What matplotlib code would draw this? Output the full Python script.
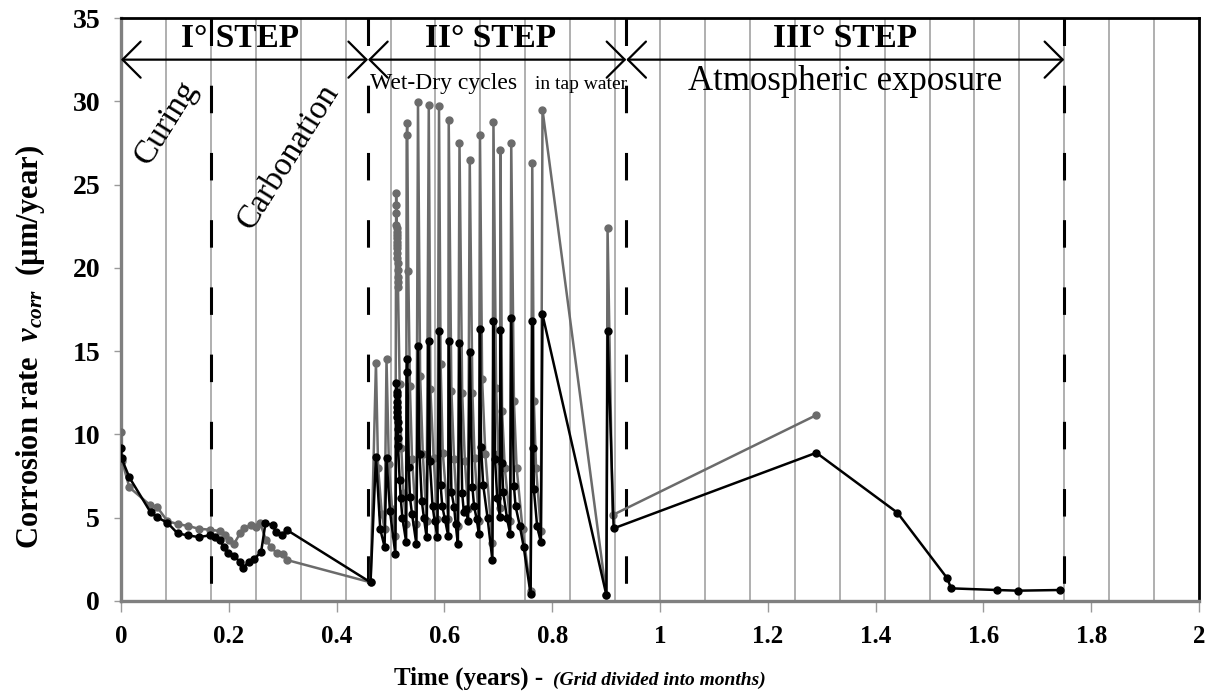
import matplotlib
matplotlib.use("Agg")
import matplotlib.pyplot as plt
import numpy as np

plt.rcParams['font.family'] = ['Liberation Serif', 'DejaVu Serif']
plt.rcParams['mathtext.fontset'] = 'custom'
plt.rcParams['mathtext.rm'] = 'Liberation Serif:bold'
plt.rcParams['mathtext.it'] = 'Liberation Serif:italic:bold'
plt.rcParams['mathtext.bf'] = 'Liberation Serif:bold'

# ---------------- data ----------------
black_x = [0.000, 0.001, 0.0155, 0.055, 0.0675, 0.086, 0.105, 0.124, 0.144, 0.165,
           0.175, 0.183, 0.191, 0.199, 0.209, 0.221, 0.226, 0.237, 0.247, 0.260,
           0.268, 0.282, 0.288, 0.299, 0.308, 0.463,
           0.473, 0.481, 0.489, 0.4926, 0.499, 0.509,
           0.5110, 0.5113, 0.5116, 0.5119, 0.5122, 0.5125, 0.5128, 0.5131, 0.5134, 0.5137, 0.5140,
           0.517, 0.519, 0.522, 0.529,
           0.530, 0.531, 0.534, 0.536, 0.540, 0.548,
           0.551, 0.554, 0.558, 0.562, 0.567,
           0.571, 0.573, 0.578, 0.582, 0.587,
           0.590, 0.593, 0.596, 0.601, 0.607,
           0.608, 0.613, 0.618, 0.621, 0.625,
           0.628, 0.633, 0.636, 0.640, 0.644,
           0.647, 0.652, 0.655, 0.660, 0.664,
           0.666, 0.668, 0.672, 0.680, 0.689,
           0.691, 0.694, 0.698, 0.703,
           0.704, 0.707, 0.709, 0.716, 0.722,
           0.724, 0.729, 0.732, 0.740, 0.747, 0.760,
           0.763, 0.765, 0.766, 0.772, 0.779,
           0.782, 0.9005, 0.9027, 0.914,
           1.290, 1.4405, 1.533, 1.540, 1.6245, 1.664, 1.742]
black_y = [9.17, 8.57, 7.42, 5.32, 5.02, 4.70, 4.06, 3.94, 3.84, 3.94,
           3.82, 3.66, 3.24, 2.86, 2.70, 2.36, 1.96, 2.36, 2.50, 2.96,
           4.66, 4.56, 4.12, 3.96, 4.26, 1.12,
           8.66, 4.30, 3.26, 8.56, 5.40, 2.82,
           13.10, 12.56, 12.36, 11.96, 11.66, 11.36, 11.03, 10.76, 10.30, 9.80, 9.30,
           7.26, 6.16, 5.00, 3.56,
           13.76, 14.50, 8.06, 6.26, 5.20, 3.42,
           15.30, 8.80, 6.00, 5.00, 3.82,
           15.60, 8.42, 5.70, 4.80, 3.86,
           16.20, 6.96, 5.70, 4.90, 3.92,
           15.60, 6.56, 5.66, 4.60, 3.40,
           15.50, 6.46, 5.36, 5.50, 4.82,
           14.96, 6.82, 5.70, 4.90, 4.00,
           16.30, 9.26, 6.96, 5.00, 2.46,
           16.80, 8.50, 6.16, 5.02,
           16.27, 8.26, 6.56, 5.00, 4.02,
           17.00, 6.90, 5.70, 4.50, 3.26, 0.40,
           16.80, 9.16, 6.70, 4.50, 3.52,
           17.20, 0.36, 16.20, 4.36,
           8.90, 5.30, 1.36, 0.76, 0.66, 0.62, 0.66]

gray_x = [0.000, 0.002, 0.0155, 0.054, 0.0675, 0.086, 0.105, 0.125, 0.144, 0.165,
          0.183, 0.193, 0.201, 0.209, 0.221, 0.229, 0.241, 0.250, 0.258, 0.269,
          0.278, 0.289, 0.300, 0.308, 0.463,
          0.473, 0.477, 0.484, 0.489,
          0.4926, 0.497, 0.503, 0.509,
          0.5105, 0.5107, 0.5109, 0.5111, 0.5113, 0.5115, 0.5117, 0.5119, 0.5121,
          0.5123, 0.5125, 0.5127, 0.5129, 0.5131, 0.5133, 0.5135, 0.5137, 0.5139,
          0.517, 0.520, 0.524, 0.529,
          0.530, 0.531, 0.533, 0.536, 0.540, 0.548,
          0.551, 0.555, 0.560, 0.567,
          0.571, 0.574, 0.580, 0.587,
          0.590, 0.593, 0.597, 0.607,
          0.608, 0.613, 0.618, 0.625,
          0.628, 0.633, 0.638, 0.644,
          0.647, 0.652, 0.656, 0.664,
          0.666, 0.670, 0.676, 0.689,
          0.691, 0.696, 0.700, 0.703,
          0.704, 0.707, 0.712, 0.722,
          0.724, 0.729, 0.734, 0.745, 0.760,
          0.763, 0.766, 0.770, 0.779,
          0.782, 0.9005, 0.9027, 0.912, 1.290]
gray_y = [10.16, 8.40, 6.82, 5.76, 5.62, 4.80, 4.62, 4.50, 4.34, 4.28,
          4.20, 3.96, 3.66, 3.40, 4.06, 4.36, 4.56, 4.46, 4.70, 3.66,
          3.26, 2.86, 2.82, 2.46, 1.12,
          14.30, 8.00, 5.20, 4.30,
          14.50, 8.20, 5.50, 3.90,
          24.50, 23.77, 23.30, 22.57, 22.37, 22.17, 21.97, 21.77, 21.57,
          21.37, 21.17, 20.87, 20.57, 20.27, 19.87, 19.47, 19.17, 18.87,
          13.00, 9.20, 6.50, 4.60,
          27.97, 28.70, 19.80, 12.90, 8.50, 4.60,
          29.97, 13.50, 8.80, 4.80,
          29.80, 12.70, 8.60, 4.90,
          29.70, 14.20, 8.90, 4.90,
          28.90, 12.60, 8.50, 4.50,
          27.50, 12.50, 8.40, 5.50,
          26.50, 12.50, 8.60, 4.80,
          28.00, 13.30, 8.80, 3.50,
          28.75, 12.80, 8.80, 5.60,
          27.07, 11.40, 8.00, 4.80,
          27.50, 12.00, 8.00, 4.30, 0.60,
          26.27, 12.00, 8.00, 4.20,
          29.50, 0.36, 22.40, 5.16, 11.16]

x_ticks = [0, 0.2, 0.4, 0.6, 0.8, 1, 1.2, 1.4, 1.6, 1.8, 2]
x_tick_labels = ['0', '0.2', '0.4', '0.6', '0.8', '1', '1.2', '1.4', '1.6', '1.8', '2']
y_ticks = [0, 5, 10, 15, 20, 25, 30, 35]
month_lines = [k / 12 for k in range(1, 24)]
step_bounds = [0.0, 5.5 / 12, 11.25 / 12, 1.75]
phase_lines = [2 / 12, 5.5 / 12, 11.25 / 12, 1.75]
step_names = ['I° STEP', 'II° STEP', 'III° STEP']

# ---------------- figure ----------------
fig = plt.figure(figsize=(12.17, 6.95), dpi=100)
ax = fig.add_axes([121 / 1217, 1 - 601 / 695, (1199 - 121) / 1217, (601 - 18) / 695])
ax.set_xlim(0, 2)
ax.set_ylim(0, 35)

for m in month_lines:
    ax.axvline(m, color='#9a9a9a', lw=1.1, zorder=1)

for xl in phase_lines:
    ax.plot([xl, xl], [35, 0], color='black', lw=2.2,
            linestyle=(0, (9, 13)), zorder=2)

ax.plot(gray_x, gray_y, color='#6b6b6b', lw=1.8, marker='o', ms=5,
        markerfacecolor='#6b6b6b', markeredgecolor='#6b6b6b', zorder=3)
ax.plot(black_x, black_y, color='black', lw=1.8, marker='o', ms=5,
        markerfacecolor='black', markeredgecolor='black', zorder=4)

# step arrows
arrow_y = 32.5
for i in range(3):
    ax.annotate('', xy=(step_bounds[i + 1], arrow_y), xytext=(step_bounds[i], arrow_y),
                arrowprops=dict(arrowstyle='<->,head_length=1.0,head_width=1.0',
                                lw=1.6, color='black', shrinkA=0, shrinkB=0,
                                mutation_scale=13), zorder=5)

step_cx = [0.221, 0.685, 1.343]
for name, cx in zip(step_names, step_cx):
    ax.text(cx, 33.75, name, ha='center', va='center', fontsize=24,
            fontweight='bold', zorder=6)

ax.text(0.462, 31.05, 'Wet-Dry cycles', ha='left', va='center', fontsize=17, zorder=6)
ax.text(0.768, 31.0, 'in tap water', ha='left', va='center', fontsize=14, zorder=6)
ax.text(1.343, 31.2, 'Atmospheric exposure', ha='center', va='center', fontsize=25, zorder=6)
ax.text(0.0835, 28.7, 'Curing', ha='center', va='center', fontsize=24,
        rotation=58, zorder=6)
ax.text(0.31, 26.7, 'Carbonation', ha='center', va='center', fontsize=24,
        rotation=58, zorder=6)

# axes styling
ax.set_xticks(x_ticks)
ax.set_xticklabels(x_tick_labels)
ax.set_yticks(y_ticks)
for lab in ax.get_xticklabels():
    lab.set_fontweight('bold')
    lab.set_fontsize(18)
for lab in ax.get_yticklabels():
    lab.set_fontweight('bold')
    lab.set_fontsize(20)
ax.tick_params(axis='x', direction='out', length=8, width=1, color='#9a9a9a', pad=9)
ax.tick_params(axis='y', direction='out', length=5, width=1, color='#9a9a9a', pad=10)
ax.spines['left'].set_color('#808080')
ax.spines['left'].set_linewidth(2.4)
ax.spines['bottom'].set_color('#808080')
ax.spines['bottom'].set_linewidth(2.4)
ax.spines['top'].set_color('black')
ax.spines['top'].set_linewidth(2.0)
ax.spines['right'].set_color('black')
ax.spines['right'].set_linewidth(2.0)

fig.text(30 / 1217, 1 - 347 / 695, r'Corrosion rate  $v_{corr}$  (µm/year)',
         rotation=90, ha='center', va='center', fontsize=22, fontweight='bold')
fig.text(549 / 1217, 1 - 678 / 695, 'Time (years) - ', ha='right', va='center',
         fontsize=18, fontweight='bold')
fig.text(553 / 1217, 1 - 680 / 695, '(Grid divided into months)', ha='left', va='center',
         fontsize=14, fontweight='bold', fontstyle='italic')

fig.savefig('out.png', dpi=100)
